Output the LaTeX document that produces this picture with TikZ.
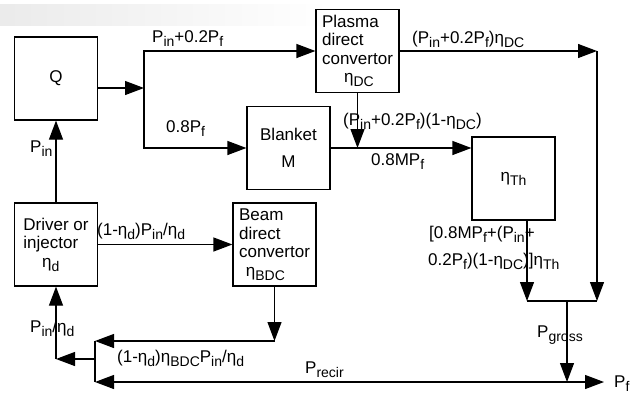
\documentclass[tikz,border=0pt]{standalone}
\usepackage{fontspec}
\setmainfont{Liberation Sans}
\usetikzlibrary{arrows.meta}
\newcommand{\lo}[1]{\raisebox{-0.45ex}{\fontsize{14}{14}\selectfont #1}}

\begin{document}
\begin{tikzpicture}[x=1pt,y=-1pt,
  box/.style={draw,line width=1.2pt,minimum width=83pt,minimum height=83pt,inner sep=2pt,font=\fontsize{17}{18.5}\selectfont},
  flow/.style={line width=1.2pt,-{Triangle[length=19pt,width=14pt]}},
  both/.style={line width=1.2pt,{Triangle[length=19pt,width=14pt]}-{Triangle[length=19pt,width=14pt]}},
  wire/.style={line width=1.2pt},
  lbl/.style={anchor=base west,inner sep=0pt,font=\fontsize{17}{18}\selectfont}]
\useasboundingbox (0,0) rectangle (631,394);
\shade[left color=gray!16,right color=white] (0,4) rectangle (330,25);
\node[box] (q) at (56,78.5) {Q};
\node[box,align=left] (plasma) at (357.5,51) {Plasma\\direct\\convertor\\\hspace*{1.3em}η\lo{DC}};
\node[box,align=center] (blanket) at (288.5,148) {Blanket\\[9pt]M};
\node[box] (th) at (513.5,178.5) {η\lo{Th}};
\node[box,align=left] (driver) at (56,244.5) {Driver or\\injector\\\hspace*{1.1em}η\lo{d}};
\node[box,align=left] (beam) at (274.5,244.5) {Beam\\direct\\convertor\\\hspace*{0.4em}η\lo{BDC}};
\coordinate (split) at (144,88);
\coordinate (dc) at (597,51);
\coordinate (mix) at (plasma.south |- blanket.east);
\coordinate (tho) at (527,220);
\coordinate (thi) at (527,301);
\coordinate (gr) at (597,301);
\coordinate (gj) at (567,301);
\coordinate (net) at (567,382);
\coordinate (pout) at (604,382);
\coordinate (rl) at (95,382);
\coordinate (bd) at (274.5,341);
\coordinate (rb) at (95,341);
\coordinate (rm) at (95,359);
\coordinate (dl) at (56,359);
\draw[flow] (q.east |- split) -- (split);
\draw[flow] (split) |- (plasma.west);
\draw[flow] (split) |- (blanket.west);
\draw[flow] (plasma.east) -- (dc);
\draw[flow] (dc) -- (gr);
\draw[flow] (plasma.south) -- (mix);
\draw[flow] (blanket.east) -- (blanket.east -| th.west);
\draw[flow] (tho) -- (thi);
\draw[wire] (thi) -- (gr);
\draw[flow] (gj) -- (net);
\draw[both] (rl) -- (pout);
\draw[flow] (driver.north) -- (q.south);
\draw[flow] (driver.east) -- (beam.west);
\draw[flow] (beam.south) -- (bd);
\draw[flow] (bd) -- (rb);
\draw[wire] (rb) -- (rl);
\draw[flow] (rm) -- (dl);
\draw[flow] (dl) -- (driver.south);
\node[lbl] (pfus) at (152,42) {P\lo{in}+0.2P\lo{f}};
\node[lbl] (pbl) at (166,132) {0.8P\lo{f}};
\node[lbl] (pin) at (30,152) {P\lo{in}};
\node[lbl] (pdc) at (412,43) {(P\lo{in}+0.2P\lo{f})η\lo{DC}};
\node[lbl] (ploss) at (343,125) {(P\lo{in}+0.2P\lo{f})(1-η\lo{DC})};
\node[lbl] (pm) at (371,165) {0.8MP\lo{f}};
\node[lbl] (pdrv) at (97,235) {(1-η\lo{d})P\lo{in}/η\lo{d}};
\node[lbl] (pback) at (30,332) {P\lo{in}/η\lo{d}};
\node[lbl] (pbdc) at (117,362) {(1-η\lo{d})η\lo{BDC}P\lo{in}/η\lo{d}};
\node[lbl] (pth1) at (429,238) {[0.8MP\lo{f}+(P\lo{in}+};
\node[lbl] (pth2) at (428,265) {0.2P\lo{f})(1-η\lo{DC})]η\lo{Th}};
\node[lbl] (pgross) at (537,337) {P\lo{gross}};
\node[lbl] (precir) at (305,373) {P\lo{recir}};
\node[lbl] (pnet) at (614,387) {P\lo{f}};
\end{tikzpicture}
\end{document}
